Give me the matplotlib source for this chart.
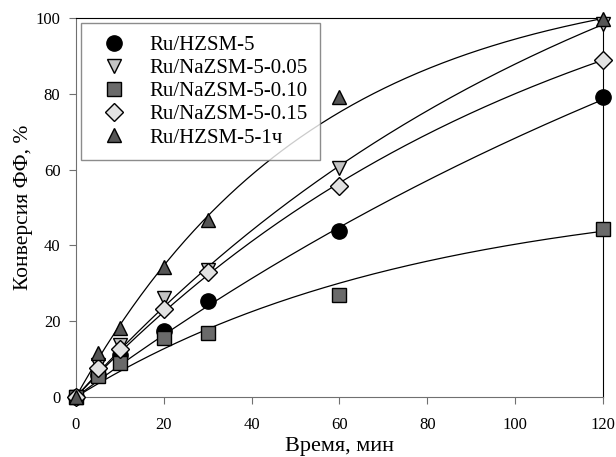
import numpy as np
import matplotlib.pyplot as plt

# time points, min
time_min = [0, 5, 10, 20, 30, 60, 120]

# conversion of FF, %
conv_hzsm = [0, 5.8, 11.0, 17.4, 25.4, 43.8, 79.1]
conv_na005 = [0, 8.5, 13.7, 26.1, 33.5, 60.4, 98.3]
conv_na010 = [0, 5.5, 9.0, 15.6, 16.9, 26.9, 44.3]
conv_na015 = [0, 7.6, 12.7, 23.2, 33.0, 55.7, 88.9]
conv_hzsm1h = [0, 11.6, 18.2, 34.3, 46.7, 79.0, 99.6]

# fitted curves y = a * (1 - exp(-k t)), parameters
fit_amp = [180.6, 156.8, 55.2, 132.3, 112.0]
fit_rate = [0.00475, 0.00821, 0.0131, 0.00928, 0.0185]

labels = ["Ru/HZSM-5", "Ru/NaZSM-5-0.05", "Ru/NaZSM-5-0.10",
          "Ru/NaZSM-5-0.15", "Ru/HZSM-5-1ч"]
series = [conv_hzsm, conv_na005, conv_na010, conv_na015, conv_hzsm1h]
markers = ["o", "v", "s", "D", "^"]
faces = ["#000000", "#c4c4c4", "#6a6a6a", "#e2e2e2", "#555555"]
msizes = [11, 10, 10, 9, 10]

plt.rcParams["font.family"] = ["Liberation Serif", "DejaVu Serif"]

fig, ax = plt.subplots(figsize=(6.16, 4.57), dpi=100)
fig.subplots_adjust(left=0.123, right=0.979, top=0.961, bottom=0.131)

tt = np.linspace(0, 120, 300)
for a, k in zip(fit_amp, fit_rate):
    ax.plot(tt, a * (1 - np.exp(-k * tt)), color="black", lw=0.9, zorder=2)

for y, lab, m, fc, ms in zip(series, labels, markers, faces, msizes):
    ax.plot(time_min, y, ls="none", marker=m, ms=ms, mfc=fc, mec="black",
            mew=1.0, label=lab, zorder=3, clip_on=False)

ax.set_xlim(0, 120)
ax.set_ylim(0, 100)
ax.set_xticks(range(0, 121, 20))
ax.set_yticks(range(0, 101, 20))
ax.tick_params(direction="out", length=5, width=0.8, color="#707070",
               labelsize=12)
ax.tick_params(axis="x", pad=9)
ax.tick_params(axis="y", pad=6)
for side in ["left", "bottom"]:
    ax.spines[side].set_color("#707070")
for side in ["top", "right"]:
    ax.spines[side].set_color("black")
    ax.spines[side].set_linewidth(0.8)

ax.set_xlabel("Время, мин", fontsize=16, labelpad=3)
ax.set_ylabel("Конверсия ФФ, %", fontsize=15.5, labelpad=2)

leg = ax.legend(loc="upper left", fontsize=15, frameon=True, fancybox=False,
                borderpad=0.6, labelspacing=0.17, handletextpad=0.7,
                borderaxespad=0.25, handlelength=2.0)
leg.get_frame().set_edgecolor("#707070")
leg.get_frame().set_linewidth(1.0)

fig.savefig("out.png", dpi=100)
